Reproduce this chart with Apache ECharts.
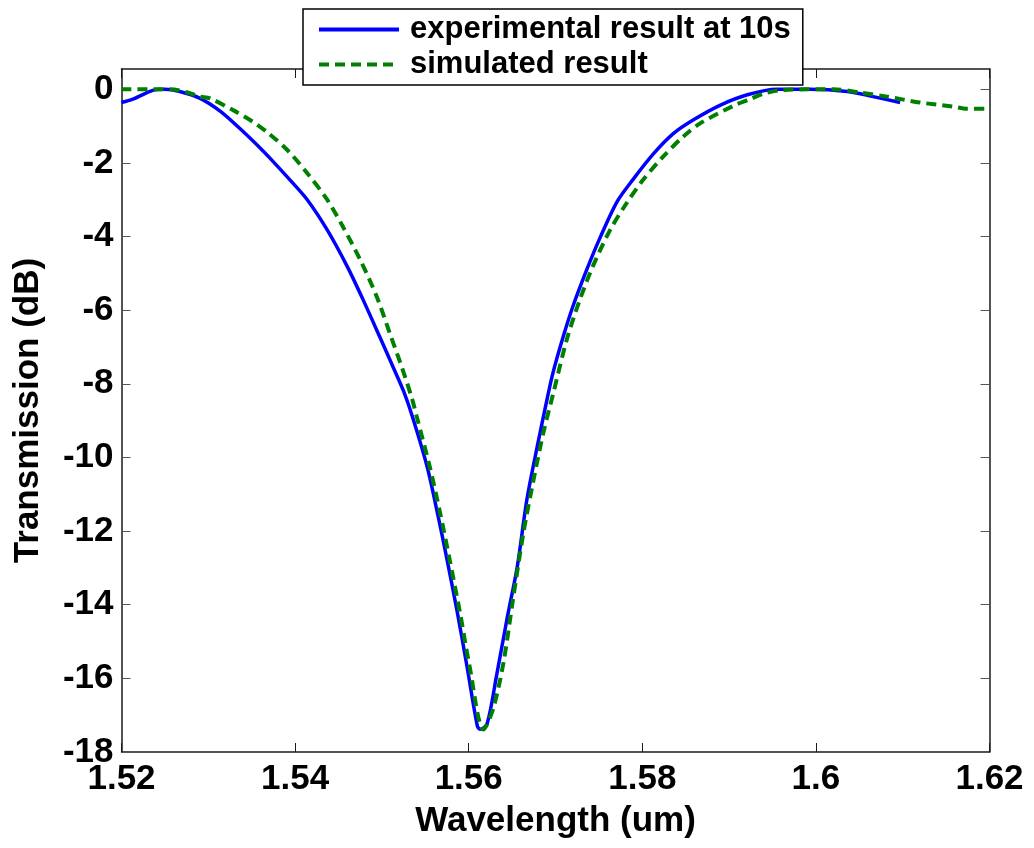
<!DOCTYPE html>
<html>
<head>
<meta charset="utf-8">
<script src="https://cdn.jsdelivr.net/npm/echarts@6/dist/echarts.min.js"></script>
<style>
html,body{margin:0;padding:0;background:#fff;}
#chart{width:1034px;height:848px;}
</style>
</head>
<body>
<div id="chart"></div>
<script>
// Experimental result at 10s (blue solid)
const expX = [1.5200,1.5213,1.5236,1.5250,1.5267,1.5290,1.5314,1.5337,1.5360,1.5371,1.5394,1.5414,1.5437,1.5460,1.5478,1.5498,1.5513,1.5525,1.5535,1.5552,1.5564,1.5575,1.5587,1.5598,1.5610,1.5613,1.5621,1.5632,1.5644,1.5656,1.5667,1.5679,1.5690,1.5697,1.5709,1.5720,1.5736,1.5751,1.5771,1.5789,1.5813,1.5836,1.5859,1.5890,1.5921,1.5955,1.5993,1.6036,1.6066,1.6097];
const expY = [-0.36,-0.27,-0.03,0,-0.06,-0.24,-0.6,-1.08,-1.6,-1.87,-2.46,-3.0,-3.82,-4.81,-5.7,-6.75,-7.55,-8.2,-8.88,-10.24,-11.51,-12.77,-14.22,-15.67,-17.3,-17.38,-17.25,-15.94,-14.4,-12.96,-11.15,-9.7,-8.45,-7.71,-6.71,-5.9,-4.9,-4.05,-3.05,-2.46,-1.75,-1.2,-0.83,-0.43,-0.15,0,0,-0.06,-0.2,-0.36];
// Simulated result (green dashed)
const simX = [1.5200,1.5256,1.5275,1.5290,1.5302,1.5328,1.5351,1.5368,1.5391,1.5414,1.5437,1.5455,1.5475,1.5494,1.5509,1.5524,1.5535,1.5540,1.5555,1.5567,1.5578,1.5590,1.5601,1.5617,1.5628,1.5640,1.5651,1.5663,1.5674,1.5686,1.5697,1.5713,1.5728,1.5743,1.5763,1.5782,1.5801,1.5824,1.5847,1.5867,1.5905,1.5924,1.5940,1.5962,1.6020,1.6051,1.6082,1.6120,1.6158,1.6174,1.6200];
const simY = [0,0,-0.08,-0.2,-0.25,-0.56,-0.88,-1.17,-1.65,-2.28,-3.0,-3.73,-4.63,-5.63,-6.62,-7.62,-8.43,-8.88,-10.24,-11.5,-12.77,-14.22,-15.67,-17.39,-16.84,-15.58,-13.86,-12.05,-10.69,-9.33,-8.3,-6.8,-5.72,-4.81,-3.82,-3.09,-2.46,-1.83,-1.29,-0.92,-0.45,-0.27,-0.12,-0.02,0,-0.09,-0.2,-0.36,-0.47,-0.53,-0.53];

const seriesNames = ['experimental result at 10s','simulated result'];
const xTitle = 'Wavelength (um)';
const yTitle = 'Transmission (dB)';

const FONT = '"Liberation Sans", Arial, sans-serif';
const chart = echarts.init(document.getElementById('chart'), null, {renderer:'canvas'});

const zip = (a,b) => a.map((v,i)=>[v,b[i]]);
const labelStyle = {fontFamily:FONT, fontWeight:'bold', fontSize:35, color:'#000'};
const lineCol = '#1a1a1a';

chart.setOption({
  animation:false,
  backgroundColor:'#fff',
  grid:{left:121.5, right:44.5, top:69, bottom:96, containLabel:false},
  legend:{
    show:true,
    left:303, top:9, orient:'vertical',
    backgroundColor:'#fff', borderColor:'#000', borderWidth:1.5, borderRadius:0,
    padding:[5,12,5,14], itemWidth:80, itemHeight:28, itemGap:4,
    itemStyle:{color:'transparent', borderWidth:0, opacity:0},
    lineStyle:{width:4},
    textStyle:{fontFamily:FONT, fontWeight:'bold', fontSize:31, color:'#000', padding:[0,0,0,6]},
    data:seriesNames
  },
  xAxis:[{
    type:'value', min:1.52, max:1.62, interval:0.02, position:'bottom',
    name:xTitle, nameLocation:'middle', nameGap:52,
    nameTextStyle:labelStyle,
    axisLine:{show:true, onZero:false, lineStyle:{color:lineCol, width:1.5}},
    axisTick:{show:true, inside:true, length:9, lineStyle:{color:lineCol, width:1}},
    axisLabel:{...labelStyle, margin:10, formatter:v=>String(+v.toFixed(2))},
    splitLine:{show:false}
  },{
    type:'value', min:1.52, max:1.62, interval:0.02, position:'top',
    axisLine:{show:true, onZero:false, lineStyle:{color:lineCol, width:1.5}},
    axisTick:{show:true, inside:true, length:9, lineStyle:{color:lineCol, width:1}},
    axisLabel:{show:false}, splitLine:{show:false}
  }],
  yAxis:[{
    type:'value', min:-18, max:0.55, interval:2, position:'left',
    name:yTitle, nameLocation:'middle', nameGap:76, nameRotate:90,
    nameTextStyle:labelStyle,
    axisLine:{show:true, onZero:false, lineStyle:{color:lineCol, width:1.5}},
    axisTick:{show:true, inside:true, length:9, lineStyle:{color:'#555', width:1}},
    axisLabel:{...labelStyle, margin:8, showMaxLabel:false,
      formatter:v=>{const r=Math.round(v); return (Math.abs(v-r)<1e-6 && r%2===0)? String(r):'';}},
    splitLine:{show:false}
  },{
    type:'value', min:-18, max:0.55, interval:2, position:'right',
    axisLine:{show:true, onZero:false, lineStyle:{color:lineCol, width:1.5}},
    axisTick:{show:true, inside:true, length:9, lineStyle:{color:'#555', width:1}},
    axisLabel:{show:false}, splitLine:{show:false}
  }],
  series:[{
    name:seriesNames[0], type:'line', xAxisIndex:0, yAxisIndex:0,
    data:zip(expX,expY), symbol:'none', showSymbol:false, smooth:0.3,
    lineStyle:{color:'#0000ff', width:3.5}, itemStyle:{color:'#0000ff'}, z:3
  },{
    name:seriesNames[1], type:'line', xAxisIndex:0, yAxisIndex:0,
    data:zip(simX,simY), symbol:'none', showSymbol:false, smooth:0.3,
    lineStyle:{color:'#008000', width:4, type:[10,6]}, itemStyle:{color:'#008000'}, z:4
  }]
});
</script>
</body>
</html>
